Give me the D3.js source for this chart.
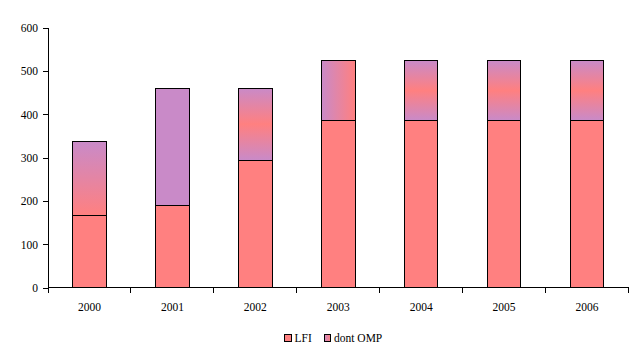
<!DOCTYPE html>
<html><head><meta charset="utf-8">
<script src="https://cdn.jsdelivr.net/npm/d3@7"></script>
<style>body{margin:0;background:#fff}svg{display:block}text{font-family:"Liberation Serif","Times New Roman",serif;font-size:11.5px;fill:#000}rect,line,path{shape-rendering:crispEdges}</style>
</head><body><svg id="c" width="643" height="359"></svg>
<script>
const years = ["2000","2001","2002","2003","2004","2005","2006"];
const lfi = [167, 190, 294, 385, 386, 386, 386];
const omp = [169, 270, 166, 138, 137, 137, 137];
const fillStyles = ["vTopPurple","solid","vMid","hLeftPurple","vMid","vMid","vMid"];
const yTicks = [0,100,200,300,400,500,600];
const seriesNames = ["LFI","dont OMP"];

const SALMON = "#FF8080", PURPLE = "#C98AC8";
const svg = d3.select("#c");
const m = {l:48, r:628.5, t:27.5, b:287.5};
const x = d3.scaleBand().domain(years).range([m.l, m.r]).paddingInner(0.595).paddingOuter(0.2975);
const y = d3.scaleLinear().domain([0,600]).range([m.b, m.t]);

const defs = svg.append("defs");
function grad(id, x2, y2, stops){
  const g = defs.append("linearGradient").attr("id", id).attr("x1",0).attr("y1",0).attr("x2",x2).attr("y2",y2);
  stops.forEach(s => g.append("stop").attr("offset", s[0]).attr("stop-color", s[1]));
}
grad("vTopPurple",0,1,[[0,PURPLE],[1,SALMON]]);
grad("vMid",0,1,[[0,PURPLE],[0.5,SALMON],[1,PURPLE]]);
grad("hLeftPurple",1,0,[[0,PURPLE],[1,SALMON]]);
const fillFor = s => s === "solid" ? PURPLE : `url(#${s})`;

const g = svg.append("g");
years.forEach((yr,i) => {
  g.append("rect").attr("x", x(yr)).attr("width", x.bandwidth())
    .attr("y", y(lfi[i])).attr("height", y(0)-y(lfi[i]))
    .attr("fill", SALMON).attr("stroke","#000").attr("stroke-width",1);
  g.append("rect").attr("x", x(yr)).attr("width", x.bandwidth())
    .attr("y", y(lfi[i]+omp[i])).attr("height", y(lfi[i])-y(lfi[i]+omp[i]))
    .attr("fill", fillFor(fillStyles[i])).attr("stroke","#000").attr("stroke-width",1);
});

// Y axis
const ya = svg.append("g").attr("transform",`translate(${m.l},0)`)
  .call(d3.axisLeft(y).tickValues(yTicks).tickSize(5).tickPadding(5).tickFormat(d3.format("d")));
ya.select(".domain").attr("stroke","#000");
ya.selectAll("line").attr("stroke","#000");
ya.selectAll("text").style("font-size","11.5px").attr("dy","0.35em");
// X axis
const xa = svg.append("g").attr("transform",`translate(0,${m.b})`);
xa.append("line").attr("x1",m.l).attr("x2",m.r).attr("stroke","#000");
const edges = years.map((v,i)=> m.l + i*x.step());
edges.push(m.r);
xa.selectAll("line.t").data(edges).enter().append("line").attr("class","t")
  .attr("x1",d=>d).attr("x2",d=>d).attr("y1",0).attr("y2",5).attr("stroke","#000");
xa.selectAll("text").data(years).enter().append("text")
  .attr("x", d=>x(d)+x.bandwidth()/2).attr("y",23).attr("text-anchor","middle").text(d=>d);

// Legend
const lg = svg.append("g");
const legItems = [{name:seriesNames[0], fill:SALMON, x:284.5},{name:seriesNames[1], fill:"url(#hLeftPurple)", x:324}];
legItems.forEach(it => {
  lg.append("rect").attr("x",it.x).attr("y",334.5).attr("width",6.5).attr("height",6.5)
    .attr("fill",it.fill).attr("stroke","#000").attr("stroke-width",1);
  lg.append("text").attr("x",it.x+10).attr("y",342).text(it.name);
});
</script></body></html>
